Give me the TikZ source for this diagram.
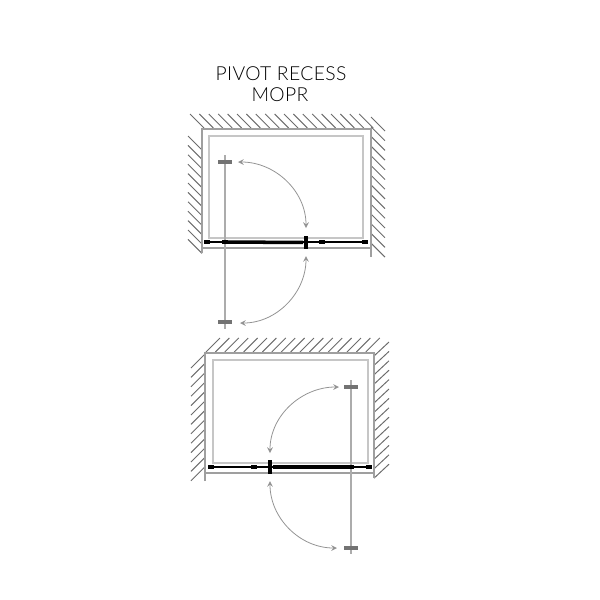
\documentclass[tikz,border=0pt]{standalone}
\usepackage{fontspec}
\setmainfont{Lato Light}
\tikzset{
hatchline/.style={gray!85!black, line width=.55pt},
wall/.style={gray!75, line width=.95pt},
glass/.style={gray!45, line width=.9pt},
leaf/.style={gray!65, line width=.7pt},
swing/.style={gray!85, line width=.45pt, <->, >=stealth},
rail/.style={black, line width=2pt},
railthin/.style={black, line width=.9pt},
stopper/.style={fill=black, inner sep=0pt, minimum width=3.2pt, minimum height=2.8pt},
grip/.style={fill=black, inner sep=0pt, minimum width=2.8pt, minimum height=7.6pt},
hinge/.style={fill=gray!90!black, inner sep=0pt, minimum width=7.4pt, minimum height=2.4pt}
}
\begin{document}
\begin{tikzpicture}[x=.02cm,y=-.02cm]
\useasboundingbox (0,0) rectangle (600,600);
\node (titleA) at (281,74) {\fontsize{11pt}{12pt}\selectfont\addfontfeature{LetterSpace=2} PIVOT RECESS};
\node (titleB) at (280,95) {\fontsize{11pt}{12pt}\selectfont\addfontfeature{LetterSpace=2} MOPR};

%upper plan
\foreach \i in {0,...,18} \draw[hatchline] ({190+9.4*\i},114)--({204+9.4*\i},128);
\foreach \i in {0,...,11} \draw[hatchline] (188,{136+9.4*\i})--(202,{150+9.4*\i});
\foreach \i in {0,...,13} \draw[hatchline] (371,{117+9.7*\i})--(385,{131+9.7*\i});
\draw[wall] (202,253)--(202,129)--(371,129)--(371,257);
\draw[wall] (202,248)--(371,248);
\draw[glass] (209,238)--(209,136)--(363,136)--(363,238)--cycle;
\coordinate (leafAt) at (225,155);
\coordinate (leafAb) at (225,329);
\coordinate (arcAa) at (238,162);
\coordinate (arcAb) at (306,228);
\coordinate (arcAc) at (306,256);
\coordinate (arcAd) at (240,323);
\draw[leaf] (leafAt)--(leafAb);
\node[stopper] (endAl) at (207,242) {};
\node[stopper] (endAr) at (365,242) {};
\node[stopper] (pivotA) at (225,242) {};
\node[stopper] (blockA) at (322,242) {};
\node[grip] (gripA) at (306,242.5) {};
\node[hinge] (topA) at (225,162) {};
\node[hinge] (botA) at (225,322) {};
\draw[railthin] (endAl)--(endAr);
\draw[rail] (pivotA)--(gripA);
\draw[swing] (arcAa) to[out=0,in=90] (arcAb);
\draw[swing] (arcAc) to[out=270,in=0] (arcAd);

%lower plan
\foreach \i in {0,...,17} \draw[hatchline] ({206+9.4*\i},352)--({220+9.4*\i},338);
\foreach \i in {0,...,12} \draw[hatchline] (191,{368+9.4*\i})--(205,{354+9.4*\i});
\foreach \i in {0,...,13} \draw[hatchline] (374,{356+9.4*\i})--(389,{342+9.4*\i});
\draw[wall] (205,481)--(205,353)--(374,353)--(374,478);
\draw[wall] (205,473)--(374,473);
\draw[glass] (213,463)--(213,360)--(368,360)--(368,463)--cycle;
\coordinate (leafBt) at (351,380);
\coordinate (leafBb) at (351,554);
\coordinate (arcBa) at (339,387);
\coordinate (arcBb) at (270,453);
\coordinate (arcBc) at (270,481);
\coordinate (arcBd) at (337,548);
\draw[leaf] (leafBt)--(leafBb);
\node[stopper] (endBl) at (211,467) {};
\node[stopper] (endBr) at (369,467) {};
\node[stopper] (pivotB) at (351,467) {};
\node[stopper] (blockB) at (254,467) {};
\node[grip] (gripB) at (270,467) {};
\node[hinge] (topB) at (351,387) {};
\node[hinge] (botB) at (351,548) {};
\draw[railthin] (endBl)--(endBr);
\draw[rail] (gripB)--(pivotB);
\draw[swing] (arcBa) to[out=180,in=90] (arcBb);
\draw[swing] (arcBc) to[out=270,in=180] (arcBd);
\end{tikzpicture}
\end{document}
